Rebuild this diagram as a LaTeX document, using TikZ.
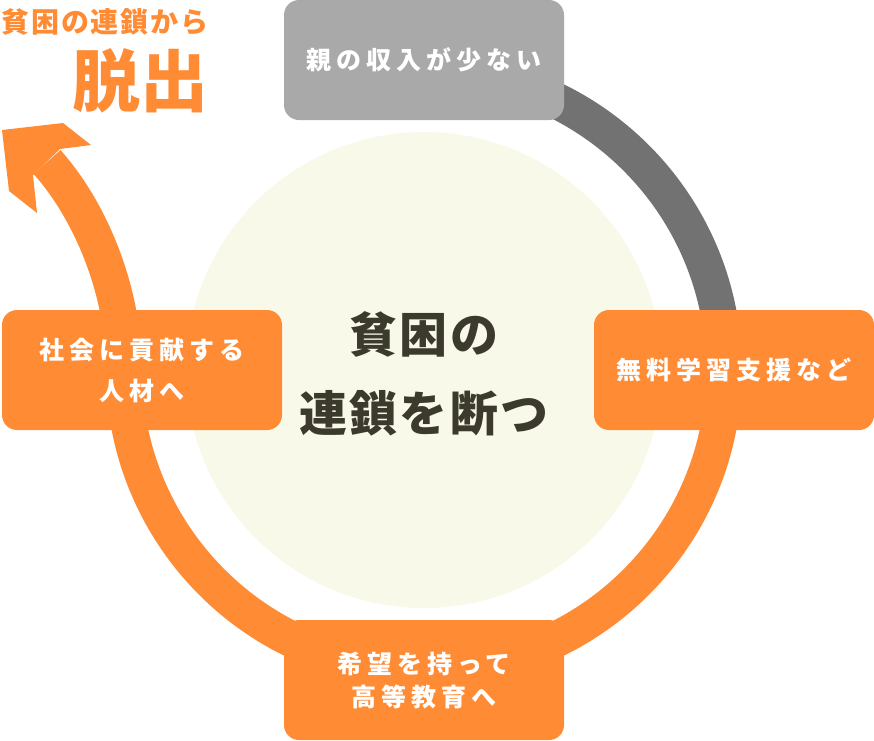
\documentclass[tikz,border=0pt]{standalone}
\usepackage{fontspec}
\usetikzlibrary{arrows.meta,positioning,calc}
\newfontfamily\jpfont{Noto Sans CJK JP}
\definecolor{povorange}{HTML}{FF8C35}
\definecolor{povgray}{HTML}{A9A9A9}
\definecolor{povring}{HTML}{727272}
\definecolor{povcream}{HTML}{F8F9E8}
\definecolor{povink}{HTML}{3B3A2C}

\tikzset{
  stagebox/.style={rectangle,rounded corners=15pt,minimum width=280pt,
    minimum height=120pt,inner sep=0pt,align=center,text=white,
    font=\jpfont\bfseries\fontsize{25}{#1}\selectfont\addfontfeatures{LetterSpace=20}},
  stagebox/.default=41,
  ringline/.style={line width=36pt}
}

\begin{document}
\begin{tikzpicture}[x=1pt,y=-1pt]
  \useasboundingbox (0,0) rectangle (874,740);

  % ---- Centre disc ------------------------------------------
  \coordinate (hub) at (424,370);
  \fill[povcream] (hub) circle (238);

  % ---- Ring: grey part, then orange part up to the exit ----------
  \coordinate (ring-top) at ($(hub)+(0,-300)$);
  \coordinate (ring-right) at ($(hub)+(300,0)$);
  \coordinate (exit) at (47,162);
  \draw[ringline,povring] (ring-top) arc[start angle=-90,end angle=0,radius=300];
  \draw[ringline,povorange] (ring-right) arc[start angle=0,end angle=180,radius=300]
    .. controls +(0,-80) and (90,210) .. (exit);
  % Arrow head
  \fill[povorange] (2,130) -- (63,123) -- (91,145) -- (60,149) -- (33,175)
    -- (37,213) -- (9,191) -- cycle;

  % ---- Stages -------------------------------------------------
  \node[stagebox,fill=povgray] (income) at (424,60) {親の収入が少ない};
  \node[stagebox,fill=povorange] (support) at (734,370) {無料学習支援など};
  \node[stagebox=33,fill=povorange] (hope) at (424,680) {希望を持って\\高等教育へ};
  \node[stagebox,fill=povorange] (society) at (142,370) {社会に貢献する\\人材へ};

  % ---- Titles -------------------------------------------------
  \node[text=povink,align=center,
    font=\jpfont\bfseries\fontsize{48}{79}\selectfont\addfontfeatures{LetterSpace=5}]
    (slogan) at (424,374) {貧困の\\連鎖を断つ};
  \node[text=povorange,
    font=\jpfont\bfseries\fontsize{28}{30}\selectfont\addfontfeatures{LetterSpace=7}]
    (escape-sub) at (105,22) {貧困の連鎖から};
  \node[text=povorange,font=\jpfont\bfseries\fontsize{68}{70}\selectfont]
    (escape) at (140,81) {脱出};

\end{tikzpicture}
\end{document}
